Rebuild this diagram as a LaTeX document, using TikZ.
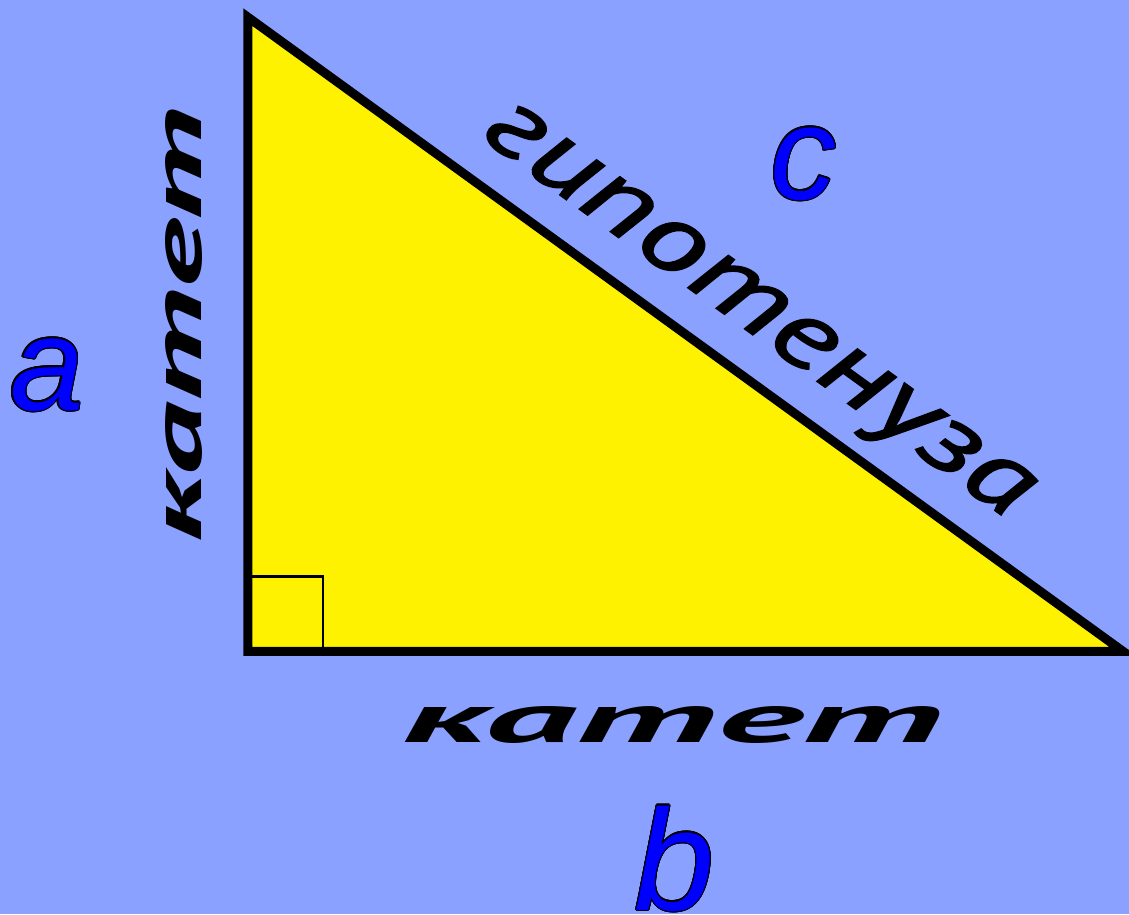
\documentclass[tikz,border=0pt]{standalone}
\usepackage{fontspec}
\usepackage{xcolor}
\usepackage{graphicx}
\usepackage{contour}
\usetikzlibrary{positioning}
\newfontfamily\ptsans{PT Sans}
\newfontfamily\ptsansheavy[FakeBold=1.5]{PT Sans}
\newfontfamily\libsans{Liberation Sans}
\definecolor{bgblue}{RGB}{138,161,255}
\contourlength{1.2pt}
\newcommand{\sidename}[1]{\textcolor{blue}{\contour{black}{#1}}}

\begin{document}
\begin{tikzpicture}[x=1pt, y=-1pt,
  leg/.style={font=\ptsans\bfseries\itshape\fontsize{70}{70}\selectfont,
              inner sep=0pt, anchor=base},
  hyp/.style={font=\ptsansheavy\itshape\fontsize{100}{100}\selectfont,
              inner sep=0pt, anchor=base},
  letter/.style={font=\libsans\itshape\fontsize{133}{133}\selectfont,
                 inner sep=0pt, anchor=base},
  side/.style={draw=black, line width=9pt, fill=yellow}
]

% Background
\fill[bgblue] (0,0) rectangle (1129,914);
\useasboundingbox (0,0) rectangle (1129,914);

% Triangle
\coordinate (top)   at (247.8,17.1);
\coordinate (right) at (247.8,651.3);
\coordinate (far)   at (1123,651.3);
\draw[side] (top) -- (right) -- (far) -- cycle;

% Right angle mark
\draw[line width=2.5pt] (right) ++(0,-75) -| ++(75.4,75);

% Side names
\node[leg, rotate=90] (leg_a) at (201,324.5) {\resizebox{435pt}{\height}{катет}};
\node[leg] (leg_b) at (673,742) {\resizebox{540pt}{\height}{катет}};
\node[hyp, rotate=-35.93] (hyp_c) at (744.8,329) {\resizebox{655pt}{\height}{гипотенуза}};

% Letters
\node[letter] (lab_a) at (47,410) {\sidename{a}};
\node[letter] (lab_c) at (803.5,199) {\sidename{c}};
\node[letter, font=\libsans\itshape\fontsize{144}{144}\selectfont] (lab_b) at (674.5,910) {\sidename{b}};

\end{tikzpicture}
\end{document}
